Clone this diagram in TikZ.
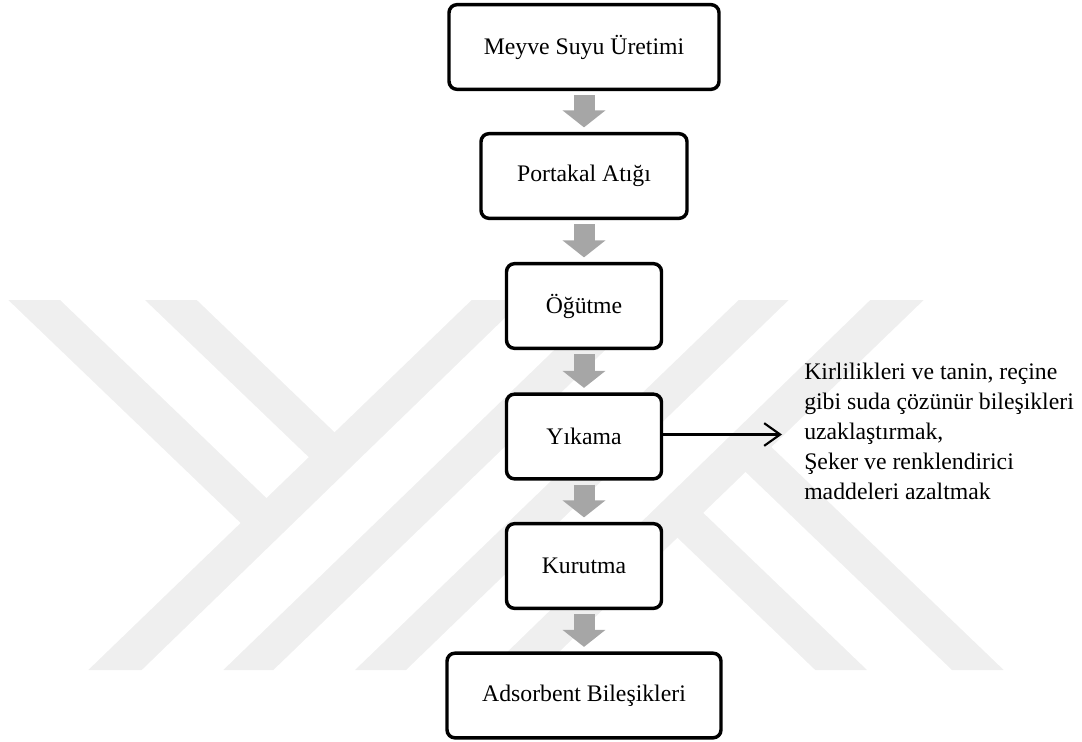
\documentclass[tikz,border=0pt]{standalone}
\usepackage{fontspec}
\setmainfont{Liberation Serif}
\usetikzlibrary{arrows.meta}
\definecolor{wmgray}{RGB}{239,239,239}
\definecolor{flowgray}{RGB}{166,166,166}
\begin{document}
\begin{tikzpicture}[x=0.75pt,y=-0.75pt,
  stepbox/.style={draw=black, line width=2.6pt, rounded corners=6pt, fill=white,
    minimum height=63.5pt, align=center, inner sep=0pt,
    font=\fontsize{17.8pt}{22.5pt}\selectfont},
  flow/.style={draw=flowgray, line width=15.75pt,
    -{Triangle[length=12.75pt,width=31.5pt]}, shorten <=3pt, shorten >=3.4pt},
  side/.style={draw=black, line width=1.6pt,
    -{Straight Barb[length=12pt,width=17pt]}},
  notetext/.style={align=left, inner sep=0pt,
    font=\fontsize{17.8pt}{22.5pt}\selectfont},
  wm/.style={fill=wmgray, draw=none}]
\useasboundingbox (0,0) rectangle (1082,742);

% background emblem: one half, repeated turned by 180 degrees
\foreach \r in {0,180}{
  \begin{scope}[rotate around={\r:(506,485)}]
    \fill[wm] (471.7,300) -- (523.3,300) -- (141.7,670) -- (88.3,670) -- cycle;
    \fill[wm] (8.3,300) -- (60,300) -- (270.4,501.9) -- (244.6,526.8) -- cycle;
    \fill[wm] (145,300) -- (196.7,300) -- (338.5,436.1) -- (312.8,461.0) -- cycle;
    \fill[wm] (606,300) -- (657,300) -- (273.3,670) -- (223.3,670) -- cycle;
  \end{scope}
}

% process steps
\node[stepbox, minimum width=202.5pt] (b1) at (584,47) {Meyve Suyu Üretimi};
\node[stepbox, minimum width=154.5pt] (b2) at (584,176) {Portakal Atığı};
\node[stepbox, minimum width=116.25pt] (b3) at (584,306) {Öğütme};
\node[stepbox, minimum width=116.25pt] (b4) at (584,436.5) {Yıkama};
\node[stepbox, minimum width=116.25pt] (b5) at (584,566) {Kurutma};
\node[stepbox, minimum width=205.5pt] (b6) at (584,695.5) {Adsorbent Bileşikleri};

% block arrows between the steps
\foreach \a/\b in {b1/b2, b2/b3, b3/b4, b4/b5, b5/b6}
  \draw[flow] (\a) -- (\b);

% purpose of the washing step
\node[notetext, anchor=north west] (note) at (804,362.8)
  {Kirlilikleri ve tanin, reçine\\
   gibi suda çözünür bileşikleri\\
   uzaklaştırmak,\\
   Şeker ve renklendirici\\
   maddeleri azaltmak};
\coordinate (tip) at (782,434.5);
\draw[side] (b4.east |- tip) -- (tip);
\end{tikzpicture}
\end{document}
